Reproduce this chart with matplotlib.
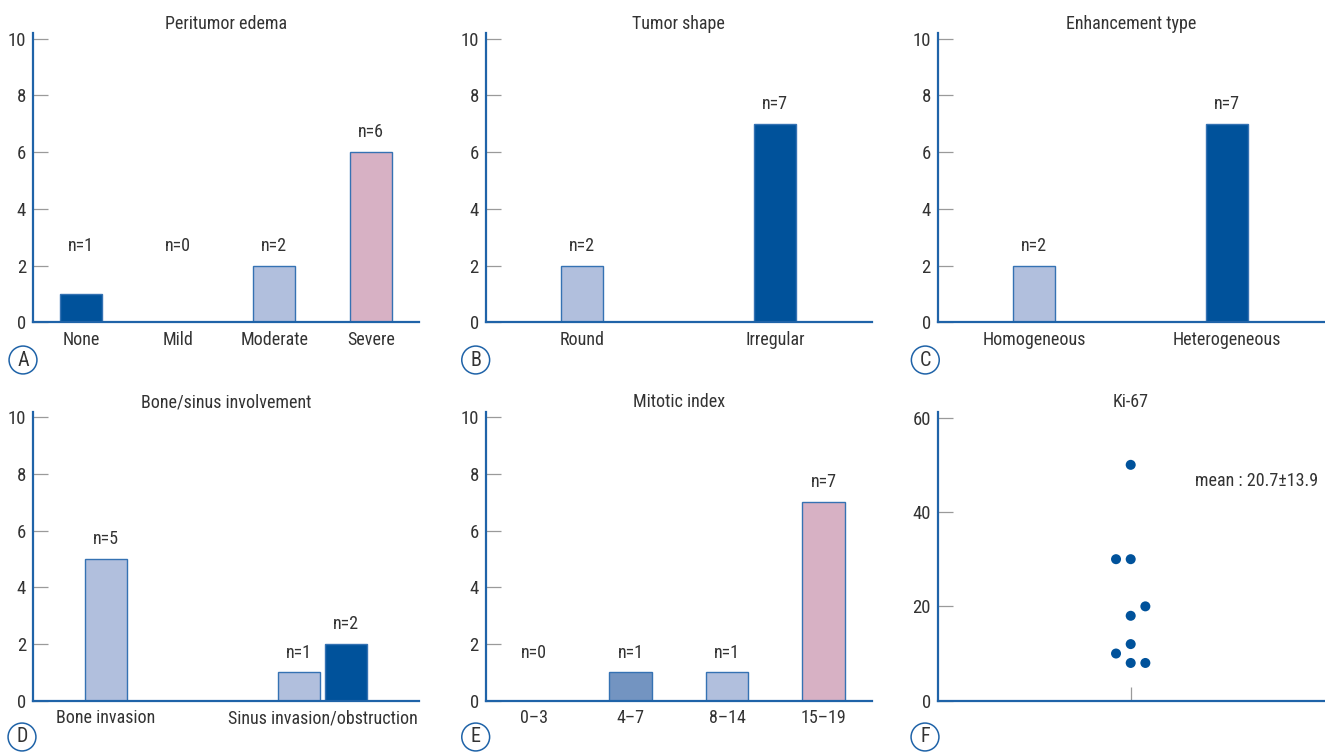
import matplotlib
matplotlib.use('Agg')
import matplotlib.pyplot as plt

plt.rcParams['font.family'] = ['Roboto Condensed', 'DejaVu Sans']

# data
edema_cats = ['None', 'Mild', 'Moderate', 'Severe']
edema_n = [1, 0, 2, 6]

shape_cats = ['Round', 'Irregular']
shape_n = [2, 7]

enh_cats = ['Homogeneous', 'Heterogeneous']
enh_n = [2, 7]

bone_cats = ['Bone invasion', 'Sinus invasion/obstruction']
bone_first = [5, 1]      # light bars
bone_second = [0, 2]     # dark bars (bone invasion has none)

mitotic_cats = ['0\u20133', '4\u20137', '8\u201314', '15\u201319']
mitotic_n = [0, 1, 1, 7]

ki67_values = [50, 30, 30, 20, 18, 12, 10, 8, 8]
ki67_column = [0, -1, 0, 1, 0, 0, -1, 0, 1]
ki67_mean_text = 'mean : 20.7\u00b113.9'

# colours
dark = '#00529b'
light = '#b1bfdd'
pink = '#d7b1c4'
mid = '#7394c1'
edge = '#3572b3'
spine_col = '#1f63a8'
tick_col = '#9a9a9a'
txt = '#333333'
fs = 13

fig = plt.figure(figsize=(13.25, 7.52), dpi=100)

lefts = [33 / 1325, 485.7 / 1325, 937.7 / 1325]
bottoms = [1 - 322.3 / 752, 1 - 700.7 / 752]
w = 386 / 1325
h = 10.2 * 28.35 / 752


def style(ax, ymax, yticks):
    ax.set_ylim(0, ymax)
    ax.set_yticks(yticks)
    for s in ['top', 'right']:
        ax.spines[s].set_visible(False)
    for s in ['left', 'bottom']:
        ax.spines[s].set_color(spine_col)
        ax.spines[s].set_linewidth(1.6)
        ax.spines[s].set_zorder(5)
    ax.tick_params(axis='y', direction='in', length=10.8, width=0.9,
                   color=tick_col, labelcolor=txt, labelsize=fs + 0.5, pad=5)
    ax.tick_params(axis='x', length=0, labelcolor=txt, labelsize=fs, pad=6)
    ax.patch.set_visible(False)


def panel_letter(x, y, letter):
    fig.text(x / 1325, 1 - y / 752, letter, ha='center', va='center',
             fontsize=fs + 1.5, color=txt,
             bbox=dict(boxstyle='circle,pad=0.22', fc='white', ec=spine_col, lw=1.1))


def bar_panel(ax, cats, values, colors, title, floor):
    x = list(range(len(cats)))
    width = 0.44 if len(cats) == 4 else 0.216
    ax.bar(x, values, width=width, color=colors, edgecolor=edge, linewidth=1, zorder=3)
    for xi, v in zip(x, values):
        ax.text(xi, max(v, floor) + 0.7, f'n={v}', ha='center', va='center',
                fontsize=fs, color=txt)
    ax.set_xlim(-0.5, len(cats) - 0.5)
    ax.set_xticks(x)
    ax.set_xticklabels(cats)
    style(ax, 10.2, [0, 2, 4, 6, 8, 10])
    ax.set_title(title, fontsize=fs, color=txt, pad=3)


# A
axA = fig.add_axes([lefts[0], bottoms[0], w, h])
bar_panel(axA, edema_cats, edema_n, [dark, light, light, pink], 'Peritumor edema', 2)

# B
axB = fig.add_axes([lefts[1], bottoms[0], w, h])
bar_panel(axB, shape_cats, shape_n, [light, dark], 'Tumor shape', 0)

# C
axC = fig.add_axes([lefts[2], bottoms[0], w, h])
bar_panel(axC, enh_cats, enh_n, [light, dark], 'Enhancement type', 0)

# D
axD = fig.add_axes([lefts[0], bottoms[1], w, h])
off = 0.123
bw = 0.216
for i in range(len(bone_cats)):
    axD.bar(i - off, bone_first[i], width=bw, color=light, edgecolor=edge, linewidth=1, zorder=3)
    axD.text(i - off, bone_first[i] + 0.7, f'n={bone_first[i]}', ha='center', va='center',
             fontsize=fs, color=txt)
    if bone_second[i] > 0:
        axD.bar(i + off, bone_second[i], width=bw, color=dark, edgecolor=edge, linewidth=1, zorder=3)
        axD.text(i + off, bone_second[i] + 0.7, f'n={bone_second[i]}', ha='center', va='center',
                 fontsize=fs, color=txt)
axD.set_xlim(-0.5, 1.5)
axD.set_xticks([-off, 1])
axD.set_xticklabels(bone_cats)
style(axD, 10.2, [0, 2, 4, 6, 8, 10])
axD.set_title('Bone/sinus involvement', fontsize=fs, color=txt, pad=3)

# E
axE = fig.add_axes([lefts[1], bottoms[1], w, h])
bar_panel(axE, mitotic_cats, mitotic_n, [light, mid, light, pink], 'Mitotic index', 1)

# F
axF = fig.add_axes([lefts[2], bottoms[1], w, h])
dodge = 0.038
axF.scatter([c * dodge for c in ki67_column], ki67_values, s=52, color=dark,
            edgecolors='none', zorder=4, clip_on=False)
axF.set_xlim(-0.5, 0.5)
axF.set_xticks([0])
axF.set_xticklabels([''])
style(axF, 61.3, [0, 20, 40, 60])
axF.tick_params(axis='x', direction='in', length=10, width=0.9, color=tick_col)
axF.text(0.167, 46.5, ki67_mean_text, ha='left', va='center', fontsize=fs, color=txt)
axF.set_title('Ki-67', fontsize=fs, color=txt, pad=3)

panel_letter(23, 360, 'A')
panel_letter(475.7, 360, 'B')
panel_letter(925.3, 360, 'C')
panel_letter(22, 737, 'D')
panel_letter(475.7, 737, 'E')
panel_letter(925, 737, 'F')

fig.savefig('out.png', dpi=100)
